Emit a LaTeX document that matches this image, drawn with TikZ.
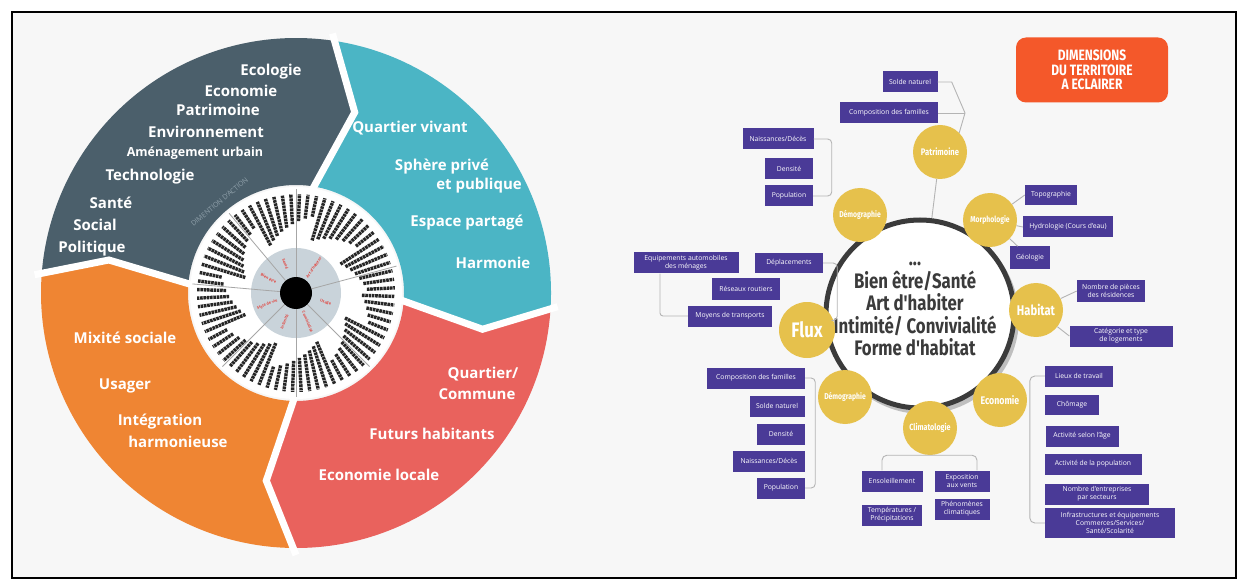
\documentclass[tikz,border=0pt]{standalone}
\usepackage{fontspec}
\setmainfont{Open Sans}
\newfontfamily\condfont[FakeStretch=0.8]{Fira Sans}

\definecolor{paper}{HTML}{F7F7F7}
\definecolor{slate}{HTML}{4B5F6B}
\definecolor{tealseg}{HTML}{4BB5C5}
\definecolor{coral}{HTML}{E9625D}
\definecolor{orng}{HTML}{EF8533}
\definecolor{ringgray}{HTML}{C9D3DA}
\definecolor{redlbl}{HTML}{E2443E}
\definecolor{dimgray}{HTML}{8FA0AA}
\definecolor{purp}{HTML}{4A3A97}
\definecolor{gold}{HTML}{E6C14C}
\definecolor{titlered}{HTML}{F4582A}
\definecolor{hubgray}{HTML}{3B3B3B}
\definecolor{linkgray}{HTML}{B4B4B4}

\newcommand{\fsz}[2]{\fontsize{#1}{#2}\selectfont}
% segment of the wheel: colour, start angle, notch shift, end angle, tip shift
\newcommand{\wheelseg}[5]{%
  \fill[#1] (#2:255) arc[start angle=#2, end angle=#4, radius=255]
    -- ({#4-#5}:190) -- (#4:108) arc[start angle=#4, end angle=#2, radius=108]
    -- ({#2-#3}:190) -- cycle;}
\newcommand{\wheelgap}[2]{%
  \draw[white, line width=7] (#1:262) -- ({#1-#2}:190) -- (#1:100);}

\tikzset{
  wheeltxt/.style={text=white, font=\bfseries\fsz{15}{17}, inner sep=0},
  dimcircle/.style={circle, fill=gold, text=white, minimum size=54, inner sep=0,
    font=\condfont\bfseries\fsz{9.5}{11}},
  infobox/.style={fill=purp, text=white, font=\fsz{6.8}{7.6}, inner sep=1,
    minimum height=21, align=center},
  link/.style={draw=linkgray, line width=0.9},
  redtxt/.style={text=redlbl, font=\bfseries\fsz{3.8}{4.5}, inner sep=0},
}

\begin{document}
\begin{tikzpicture}[x=1pt,y=-1pt]
\useasboundingbox (0,0) rectangle (1247,585);
\draw[fill=paper, line width=1.5] (12,12) rectangle (1236,578);

% wheel of action dimensions
\begin{scope}[shift={(296,293)}, yscale=-1]
\wheelseg{slate}{176}{6}{82}{10}
\wheelseg{tealseg}{82}{10}{-3}{8}
\wheelseg{coral}{-3}{8}{-90}{9}
\wheelseg{orng}{-90}{9}{-184}{6}
\wheelgap{82}{10}
\wheelgap{-3}{8}
\wheelgap{-90}{9}
\wheelgap{176}{6}
\node[text=dimgray, font=\fsz{7}{7}, rotate=40, inner sep=0] (dimact) at (130:119) {DIMENTION D'ACTION};
\fill[white] (0,0) circle[radius=106];
\foreach \a in {3,8,...,358}{
  \pgfmathsetmacro\len{22+mod(\a*37,26)}
  \draw[black!85, line width=3.4, dash pattern=on 2.6pt off 0.7pt] (\a:{100-\len}) -- (\a:99);
}
\fill[ringgray] (0,0) circle[radius=45];
\foreach \a in {90,130,175,-135,-90,-45,15}
  \draw[black!35, line width=0.8] (\a:16) -- (\a:104);
\fill[black] (0,0) circle[radius=16];
\node[redtxt, rotate=-28] (lbien) at (152:31) {Bien être};
\node[redtxt, rotate=-70] (lsant) at (110:31) {Santé};
\node[redtxt, rotate=55] (lart) at (55:31) {Art d'habiter};
\node[redtxt, rotate=-18] (lusag) at (-18:31) {Usage};
\node[redtxt, rotate=-68] (lconv) at (-68:31) {Convivialité};
\node[redtxt, rotate=68] (linti) at (-112:31) {Intimité};
\node[redtxt, rotate=22] (lstyl) at (-158:31) {Style de vie};
\end{scope}

\node[wheeltxt] (ecol) at (271,72) {Ecologie};
\node[wheeltxt] (econ) at (241,91) {Economie};
\node[wheeltxt] (patr) at (218,110) {Patrimoine};
\node[wheeltxt] (envi) at (206,132) {Environnement};
\node[wheeltxt, font=\bfseries\fsz{12.5}{14}] (amen) at (195,153) {Aménagement urbain};
\node[wheeltxt] (tech) at (150,177) {Technologie};
\node[wheeltxt] (sant) at (111,203) {Santé};
\node[wheeltxt] (soci) at (95,225) {Social};
\node[wheeltxt] (poli) at (92,249) {Politique};

\node[wheeltxt] (qviv) at (410,128) {Quartier vivant};
\node[wheeltxt] (sphe) at (442,167) {Sphère privé};
\node[wheeltxt] (publ) at (479,186) {et publique};
\node[wheeltxt] (espa) at (467,223) {Espace partagé};
\node[wheeltxt] (harm) at (493,263) {Harmonie};

\node[wheeltxt] (mixi) at (125,338) {Mixité sociale};
\node[wheeltxt] (usag) at (125,386) {Usager};
\node[wheeltxt] (inte) at (160,422) {Intégration};
\node[wheeltxt] (harmo) at (178,442) {harmonieuse};

\node[wheeltxt] (quar) at (483,374) {Quartier/};
\node[wheeltxt] (comm) at (477,394) {Commune};
\node[wheeltxt] (futu) at (432,434) {Futurs habitants};
\node[wheeltxt] (eloc) at (379,475) {Economie locale};

% territory dimensions
\node[fill=titlered, rounded corners=10, minimum width=152, minimum height=65,
  text=white, align=center, font=\condfont\bfseries\fsz{15}{14.5}] (ttl) at (1092,70)
  {DIMENSIONS\\DU TERRITOIRE\\A ECLAIRER};

\fill[black!25] (923,318) circle[radius=96];
\node[circle, draw=hubgray, line width=5, fill=white, minimum size=188, inner sep=0] (hub) at (920,314) {};
\node[text=hubgray, font=\condfont\bfseries\fsz{21}{22.5}, align=center] (hubtxt) at (915,309)
  {...\\Bien être/Santé\\Art d'habiter\\Intimité/ Convivialité\\Forme d'habitat};

\node[dimcircle] (pat) at (940,152) {Patrimoine};
\node[dimcircle, font=\condfont\bfseries\fsz{8.5}{10}] (demA) at (860,215) {Démographie};
\node[dimcircle, font=\condfont\bfseries\fsz{8.5}{10}] (morph) at (990,220) {Morphologie};
\node[dimcircle, font=\condfont\bfseries\fsz{14}{16}] (hab) at (1036,310) {Habitat};
\node[dimcircle, minimum size=56, font=\condfont\bfseries\fsz{21}{22}] (flux) at (807,330) {Flux};
\node[dimcircle, font=\condfont\bfseries\fsz{11}{12}] (eco) at (1000,400) {Economie};
\node[dimcircle, font=\condfont\bfseries\fsz{8.5}{10}] (demB) at (845,397) {Démographie};
\node[dimcircle, font=\condfont\bfseries\fsz{9}{10}] (clim) at (930,428) {Climatologie};

\node[infobox, minimum width=55] (sol1) at (910,82) {Solde naturel};
\node[infobox, minimum width=98] (comp1) at (889,113) {Composition des familles};

\node[infobox, minimum width=71] (nais1) at (778,139) {Naissances/Décès};
\node[infobox, minimum width=48] (dens1) at (789,169) {Densité};
\node[infobox, minimum width=48] (pop1) at (789,196) {Population};

\node[infobox, minimum width=52, minimum height=20] (topo) at (1051,195) {Topographie};
\node[infobox, minimum width=90] (hydro) at (1068,227) {Hydrologie (Cours d'eau)};
\node[infobox, minimum width=40, minimum height=23] (geol) at (1030,258) {Géologie};

\node[infobox, minimum width=68] (piec) at (1111,291) {Nombre de pièces\\des résidences};
\node[infobox, minimum width=103] (categ) at (1121,336) {Catégorie et type\\de logements};

\node[infobox, minimum width=105] (equip) at (686,263) {Equipements automobiles\\des ménages};
\node[infobox, minimum width=68, minimum height=20] (depl) at (789,263) {Déplacements};
\node[infobox, minimum width=68] (resx) at (746,289) {Réseaux routiers};
\node[infobox, minimum width=84] (moyn) at (730,316) {Moyens de transports};

\node[infobox, minimum width=98] (comp2) at (756,378) {Composition des familles};
\node[infobox, minimum width=55] (sol2) at (777,406) {Solde naturel};
\node[infobox, minimum width=48] (dens2) at (781,434) {Densité};
\node[infobox, minimum width=72] (nais2) at (769,461) {Naissances/Décès};
\node[infobox, minimum width=48] (pop2) at (781,488) {Population};

\node[infobox, minimum width=61] (enso) at (892,481) {Ensoleillement};
\node[infobox, minimum width=55] (expo) at (962,481) {Exposition\\aux vents};
\node[infobox, minimum width=60] (temp) at (892,515) {Températures /\\Précipitations};
\node[infobox, minimum width=55] (phen) at (962,509) {Phénomènes\\climatiques};

\node[infobox, minimum width=68] (lieu) at (1079,376) {Lieux de travail};
\node[infobox, minimum width=54, minimum height=20] (chom) at (1072,405) {Chômage};
\node[infobox, minimum width=73] (actage) at (1082,436) {Activité selon l'âge};
\node[infobox, minimum width=97] (actpop) at (1093,464) {Activité de la population};
\node[infobox, minimum width=104] (nbent) at (1097,494) {Nombre d'entreprises\\par secteurs};
\node[infobox, minimum width=130, minimum height=30] (infra) at (1110,523)
  {Infrastructures et équipements\\Commerces/Services/\\Santé/Scolarité};

% connectors
\coordinate (patjoin) at (965,113);
\draw[link] (sol1.east) -- ++(14,0) -- (patjoin) -- (pat.north east);
\draw[link] (comp1.east) -- (patjoin);
\draw[link] (pat) -- (hub);
\draw[link, rounded corners=4] (nais1.east) -- ++(18,0) |- (pop1.east);
\draw[link] (morph) -- (topo.west);
\draw[link] (morph) -- (hydro.west);
\draw[link] (morph) -- (geol);
\draw[link] (hab) -- (piec.west);
\draw[link] (hab) -- (categ.west);
\draw[link, rounded corners=4] (depl.east) -- ++(14,0) |- (flux.20);
\draw[link, rounded corners=3] ([xshift=-26]equip.south) |- (moyn.west);
\draw[link, rounded corners=4] (comp2.east) -- ++(10,0) |- (pop2.east);
\draw[link, rounded corners=5] ([xshift=-10]enso.north) |- (clim.south) -| ([xshift=15]expo.north);
\draw[link, rounded corners=5] (lieu.west) -- ++(-15,0) |- (infra.west);
\end{tikzpicture}
\end{document}
